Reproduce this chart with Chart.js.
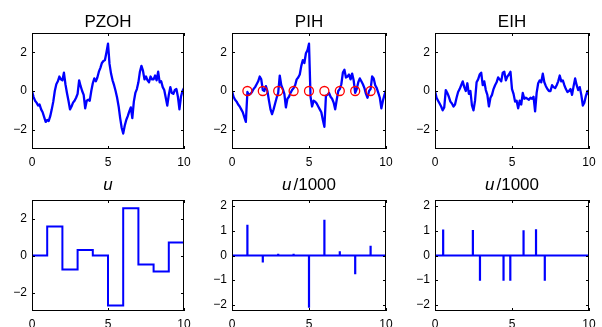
<!DOCTYPE html>
<html>
<head>
<meta charset="utf-8">
<script src="https://cdn.jsdelivr.net/npm/chart.js@4"></script>
<style>
    html, body { margin: 0; padding: 0; background: #fff; overflow: hidden; }
    #wrap { position: relative; width: 602px; height: 327px; }
    #wrap canvas { position: absolute; }
</style>
</head>
<body>
<div id="wrap"></div>
<script>
// sample grid 0..10 s, step 0.1
const time = Array.from({ length: 101 }, (_, i) => i / 10);

// state traces (top row)
const pzoh = [0.0, -0.3, -0.5, -0.6, -0.75, -0.7, -0.95, -1.1, -1.35, -1.6,
    -1.5, -1.55, -1.3, -0.95, -0.55, 0.0, 0.35, 0.5, 0.75, 0.6,
    0.55, 0.95, 0.35, -0.1, -0.5, -0.95, -0.8, -0.6, -0.5, -0.35,
    -0.15, 0.55, 0.25, 0.0, -0.2, -0.9, -0.5, -0.45, -0.5, 0.0,
    0.4, 0.65, 0.5, 0.7, 1.0, 1.2, 1.45, 1.55, 1.6, 2.0,
    2.45, 1.4, 0.9, 0.55, 0.3, 0.0, -0.35, -0.8, -1.4, -1.9,
    -2.2, -1.8, -1.5, -1.3, -1.05, -0.85, -1.4, -0.55, -0.1, 0.1,
    0.45, 1.0, 1.3, 1.05, 0.6, 0.75, 0.55, 0.45, 0.75, 0.6,
    0.6, 0.8, 0.55, 1.0, 0.45, 0.5, 0.2, 0.05, -0.35, -0.75,
    -0.2, 0.2, -0.1, -0.15, 0.05, 0.1, -0.3, -0.95, -0.3, 0.0,
    0.15];
const pih = [0.0, -0.3, -0.45, -0.55, -0.7, -0.8, -0.95, -1.1, -1.35, -1.6,
    -0.05, -0.2, -0.15, -0.05, 0.1, 0.2, 0.35, 0.5, 0.75, 0.6,
    0.05, 0.0, 0.25, 0.0, -0.5, -0.95, -1.2, -0.95, -0.65, -0.35,
    -0.1, 0.8, 0.3, 0.1, -0.15, -0.85, -0.4, -0.3, -0.1, 0.05,
    0.15, 0.3, 0.6, 0.7, 0.85, 1.3, 1.6, 1.45, 1.95, 2.1,
    2.45, -0.3, -0.8, -0.5, -0.55, -0.65, -0.8, -0.95, -1.1, -1.5,
    -1.85, -0.25, -0.2, -0.1, -0.3, -0.4, -0.6, -0.95, -0.45, 0.0,
    0.1, 0.35, 0.95, 1.1, 0.7, 0.75, 0.85, 0.6, 0.9, 0.55,
    -0.1, 0.1, 0.45, 0.65, 0.5, 0.35, 0.15, -0.15, -0.35, 0.0,
    0.1, 0.75, 0.65, 0.3, 0.15, -0.1, -0.35, -0.9, -0.5, -0.2,
    0.05];
const eih = [0.0, -0.35, -0.5, -0.65, -0.8, -1.0, -0.85, 0.05, -0.1, -0.3,
    -0.55, -0.65, -0.8, -0.7, -0.35, -0.05, 0.1, 0.3, 0.5, 0.2,
    0.0, 0.4, -0.15, 0.0, -0.75, -1.0, -0.5, 0.45, 0.6, 0.85,
    0.95, 0.3, 0.5, 0.05, -0.2, -0.8, -0.35, -0.2, 0.1, 0.3,
    0.45, 0.7, 0.6, 0.5, 0.95, 1.0, 0.55, 0.75, 0.85, 1.0,
    0.1, -0.15, -0.55, -0.5, -0.9, -0.5, -0.7, -0.1, -0.4, -0.35,
    -0.4, -0.45, -0.35, -0.4, -0.3, -1.05, -0.1, 0.4, 0.55, 0.45,
    0.9, 0.45, 0.25, 0.1, 0.0, 0.0, 0.3, 0.2, 0.15, 0.3,
    0.5, 0.8, 0.5, 0.55, 0.3, 0.1, -0.05, 0.0, 0.1, -0.2,
    0.25, 0.65, 0.3, 0.05, 0.2, -0.2, -0.75, -0.6, -0.25, 0.0,
    -0.2];

// PIH sampling instants (red circles)
const sampleT = [1, 2, 3, 4, 5, 6, 7, 8, 9];
const sampleY = [0, 0, 0, 0, 0, 0, 0, 0, 0];

// zero order hold input u (value held from holdT[k] to holdT[k+1])
const holdT = [0, 1, 2, 3, 4, 5, 6, 7, 8, 9, 10];
const uHold = [0, 1.57, -0.75, 0.3, 0, -2.7, 2.55, -0.48, -0.86, 0.7, 0.7];

// impulse inputs u/1000
const pihImpT = [1, 2, 3, 4, 5, 6, 7, 8, 9];
const pihImp = [1.25, -0.28, 0.07, 0.07, -2.12, 1.45, 0.17, -0.76, 0.4];
const eihImpT = [0.53, 2.46, 2.92, 4.45, 4.89, 5.75, 6.56, 7.13];
const eihImp = [1.05, 1.03, -1.02, -1.02, -1.02, 1.02, 1.06, -1.02];

// ticks
const xTicks = [0, 5, 10];
const yTicksTop = [-2, 0, 2];
const yTicksU = [-2, 0, 2];
const yTicksImp = [-2, -1, 0, 1, 2];

const BLUE = '#0000ff';
const FONT = "'Liberation Sans', Arial, Helvetica, sans-serif";

function trace(values) {
    return time.map((t, i) => ({ x: t, y: values[i] }));
}

function impulses(ts, vs) {
    const pts = [{ x: 0, y: 0 }];
    ts.forEach((t, i) => {
        pts.push({ x: t, y: 0 }, { x: t, y: vs[i] }, { x: t, y: 0 });
    });
    pts.push({ x: 10, y: 0 });
    return pts;
}

// box, inward ticks and the mixed-font title
const framePlugin = {
    id: 'frame',
    afterDatasetsDraw(chart, args, opts) {
        const { ctx, chartArea: a, scales: { x, y } } = chart;
        ctx.save();
        ctx.strokeStyle = '#000';
        ctx.lineWidth = 1;
        ctx.strokeRect(a.left + 0.5, a.top + 0.5, a.right - a.left - 1, a.bottom - a.top - 1);
        const len = 3;
        ctx.beginPath();
        x.ticks.forEach(tk => {
            const px = Math.round(x.getPixelForValue(tk.value)) + 0.5;
            ctx.moveTo(px, a.bottom); ctx.lineTo(px, a.bottom - len);
            ctx.moveTo(px, a.top); ctx.lineTo(px, a.top + len);
        });
        y.ticks.forEach(tk => {
            const py = Math.round(y.getPixelForValue(tk.value)) + 0.5;
            ctx.moveTo(a.left, py); ctx.lineTo(a.left + len, py);
            ctx.moveTo(a.right, py); ctx.lineTo(a.right - len, py);
        });
        ctx.stroke();

        // title
        const parts = opts.title || [];
        ctx.fillStyle = '#000';
        ctx.textBaseline = 'alphabetic';
        ctx.textAlign = 'left';
        let total = 0;
        const widths = parts.map(p => {
            ctx.font = (p.italic ? 'italic ' : '') + '17px ' + FONT;
            const w = ctx.measureText(p.text).width + (p.gap || 0);
            total += w;
            return w;
        });
        let cx = (a.left + a.right) / 2 - total / 2;
        parts.forEach((p, i) => {
            ctx.font = (p.italic ? 'italic ' : '') + '17px ' + FONT;
            ctx.fillText(p.text, cx, a.top - opts.offset);
            cx += widths[i];
        });
        ctx.restore();
    }
};

function minus(v) {
    return String(v).replace('-', '\u2212');
}

function makePanel(p) {
    const W = 32, R = 16, H = 20;
    const canvas = document.createElement('canvas');
    const cw = p.r - p.l + W + R;
    const ch = p.b - p.t + p.T + H;
    canvas.width = cw;
    canvas.height = ch;
    canvas.style.width = cw + 'px';
    canvas.style.height = ch + 'px';
    canvas.style.left = (p.l - W) + 'px';
    canvas.style.top = (p.t - p.T) + 'px';
    document.getElementById('wrap').appendChild(canvas);

    new Chart(canvas, {
        type: 'line',
        data: { datasets: p.datasets },
        options: {
            responsive: false,
            animation: false,
            events: [],
            layout: { padding: { top: p.T, right: R, left: 0, bottom: 0 } },
            plugins: {
                legend: { display: false },
                tooltip: { enabled: false },
                frame: { title: p.title, offset: p.titleOffset }
            },
            scales: {
                x: {
                    type: 'linear',
                    min: 0,
                    max: 10,
                    grid: { display: false, drawTicks: false },
                    border: { display: false },
                    afterBuildTicks: s => { s.ticks = xTicks.map(v => ({ value: v })); },
                    afterFit: s => { s.height = H; },
                    ticks: {
                        padding: 6,
                        color: '#000',
                        maxRotation: 0,
                        font: { family: FONT, size: 12 },
                        callback: v => minus(v)
                    }
                },
                y: {
                    type: 'linear',
                    min: p.yMin,
                    max: p.yMax,
                    grid: { display: false, drawTicks: false },
                    border: { display: false },
                    afterBuildTicks: s => { s.ticks = p.yTicks.map(v => ({ value: v })); },
                    afterFit: s => { s.width = W; },
                    ticks: {
                        padding: 5,
                        color: '#000',
                        font: { family: FONT, size: 12 },
                        callback: v => minus(v)
                    }
                }
            }
        },
        plugins: [framePlugin]
    });
}

const lineStyle = { borderColor: BLUE, borderWidth: 2.3, borderJoinStyle: 'round', pointRadius: 0, tension: 0, fill: false };

const panels = [
    { l: 32, r: 184, t: 33, b: 149, T: 33, yMin: -3, yMax: 3, yTicks: yTicksTop, titleOffset: 6.5,
      title: [{ text: 'PZOH' }],
      datasets: [{ ...lineStyle, data: trace(pzoh) }] },
    { l: 232, r: 386, t: 33, b: 149, T: 33, yMin: -3, yMax: 3, yTicks: yTicksTop, titleOffset: 6.5,
      title: [{ text: 'PIH' }],
      datasets: [
          { type: 'line', showLine: false, data: sampleT.map((t, i) => ({ x: t, y: sampleY[i] })),
            pointRadius: 4.5, pointBorderColor: '#ff0000', pointBackgroundColor: 'rgba(0,0,0,0)', pointBorderWidth: 1.3 },
          { ...lineStyle, data: trace(pih) }
      ] },
    { l: 435, r: 589, t: 33, b: 149, T: 33, yMin: -3, yMax: 3, yTicks: yTicksTop, titleOffset: 6.5,
      title: [{ text: 'EIH' }],
      datasets: [{ ...lineStyle, data: trace(eih) }] },
    { l: 32, r: 184, t: 200, b: 311, T: 30, yMin: -3, yMax: 3, yTicks: yTicksU, titleOffset: 10.5,
      title: [{ text: 'u', italic: true }],
      datasets: [{ ...lineStyle, borderWidth: 2, borderJoinStyle: 'miter', stepped: 'before', data: holdT.map((t, i) => ({ x: t, y: uHold[i] })) }] },
    { l: 232, r: 386, t: 200, b: 311, T: 30, yMin: -2.25, yMax: 2.25, yTicks: yTicksImp, titleOffset: 10,
      title: [{ text: 'u', italic: true, gap: 2 }, { text: '/1000' }],
      datasets: [{ ...lineStyle, borderWidth: 2.2, borderJoinStyle: 'miter', data: impulses(pihImpT, pihImp) }] },
    { l: 435, r: 589, t: 200, b: 311, T: 30, yMin: -2.25, yMax: 2.25, yTicks: yTicksImp, titleOffset: 10,
      title: [{ text: 'u', italic: true, gap: 2 }, { text: '/1000' }],
      datasets: [{ ...lineStyle, borderWidth: 2.2, borderJoinStyle: 'miter', data: impulses(eihImpT, eihImp) }] }
];

panels.forEach(makePanel);
</script>
</body>
</html>
